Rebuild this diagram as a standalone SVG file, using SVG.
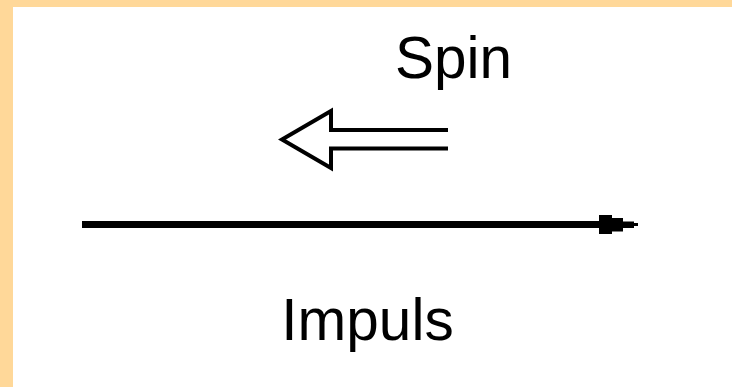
<svg xmlns="http://www.w3.org/2000/svg" width="732" height="387" viewBox="0 0 732 387">
<style>
.lbl{font-family:"Liberation Sans",Arial,sans-serif;font-size:58.5px;fill:#000;text-anchor:middle}
.frame{fill:#FFD899}
</style>
<rect x="0" y="0" width="732" height="387" fill="#fff"/>
<rect class="frame" x="0" y="0" width="732" height="7"/>
<rect class="frame" x="0" y="0" width="13" height="387"/>
<g id="connectors">
<g id="spin-arrow">
<path d="M448,130 L331,130 L331,111 L282,139.5 L331,168 L331,148.5 L448,148.5" fill="none" stroke="#000" stroke-width="4" stroke-linejoin="miter"/>
</g>
<g id="impuls-arrow">
<line x1="82" y1="224.5" x2="604" y2="224.5" stroke="#000" stroke-width="7"/>
<polygon points="599,215 612,215 612,218 623,218 623,221.5 634,221.5 634,223 638,223 638,226 634,226 634,228 623,228 623,231.5 612,231.5 612,234 599,234" fill="#000"/>
</g>
</g>
<g id="spin-label"><text class="lbl" x="453.5" y="78">Spin</text></g>
<g id="impuls-label"><text class="lbl" x="367.5" y="340">Impuls</text></g>
</svg>
